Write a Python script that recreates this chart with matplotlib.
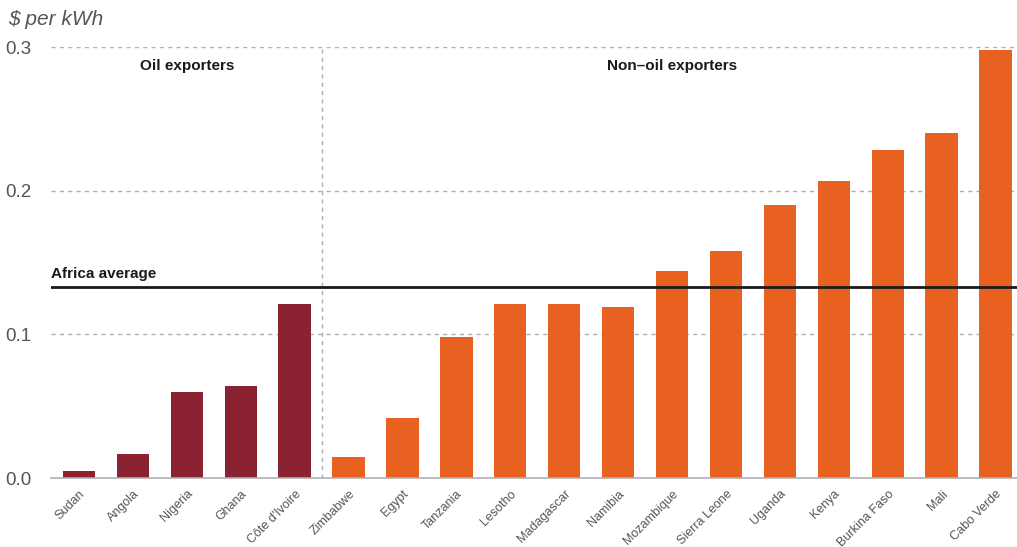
# -*- coding: utf-8 -*-
import matplotlib
matplotlib.use('Agg')
import matplotlib.pyplot as plt
import numpy as np

plt.rcParams['font.family'] = ['Liberation Sans', 'DejaVu Sans']

# data
countries = ['Sudan', 'Angola', 'Nigeria', 'Ghana', "Côte d'Ivoire",
             'Zimbabwe', 'Egypt', 'Tanzania', 'Lesotho', 'Madagascar', 'Namibia',
             'Mozambique', 'Sierra Leone', 'Uganda', 'Kenya', 'Burkina Faso',
             'Mali', 'Cabo Verde']
price = [0.005, 0.017, 0.060, 0.064, 0.121,
         0.0145, 0.042, 0.098, 0.121, 0.121, 0.119,
         0.144, 0.158, 0.190, 0.207, 0.228, 0.240, 0.298]
n_oil = 5
africa_avg = 0.133
yticks = [0.0, 0.1, 0.2, 0.3]

oil_col = '#8B2232'
non_col = '#E86121'
grid_col = '#b0b0b0'

fig = plt.figure(figsize=(10.17, 5.47), dpi=100)
ax = fig.add_axes([0.0501, 0.126, 0.95, 0.788])

x = np.arange(len(countries))
colors = [oil_col] * n_oil + [non_col] * (len(countries) - n_oil)

# dashed grid
for t in yticks[1:]:
    ax.axhline(t, color=grid_col, lw=1, ls=(0, (3, 3)), zorder=0)
ax.axvline(n_oil - 0.5, color=grid_col, lw=1, ls=(0, (3, 3)), zorder=0)

ax.bar(x, price, width=0.6, color=colors, zorder=2)

# Africa average
ax.axhline(africa_avg, color='#1a1a1a', lw=2, zorder=3)
ax.text(-0.52, africa_avg + 0.004, 'Africa average', fontsize=11, fontweight='bold',
        color='#1a1a1a', ha='left', va='bottom')

ax.text(2, 0.287, 'Oil exporters', fontsize=11, fontweight='bold',
        color='#1a1a1a', ha='center', va='center')
ax.text(11, 0.287, 'Non\u2013oil exporters', fontsize=11, fontweight='bold',
        color='#1a1a1a', ha='center', va='center')

ax.set_xlim(-0.52, 17.4)
ax.set_ylim(0, 0.3)
ax.set_yticks(yticks)
ax.set_yticklabels(['0.0', '0.1', '0.2', '0.3'], fontsize=13.5, color='#555555')
ax.set_xticks(x)
ax.set_xticklabels(countries, rotation=45, ha='right', rotation_mode='anchor',
                   fontsize=9, color='#555555')
ax.tick_params(axis='both', length=0)
ax.tick_params(axis='y', pad=14)
ax.tick_params(axis='x', pad=7)

for s in ['top', 'right', 'left']:
    ax.spines[s].set_visible(False)
ax.spines['bottom'].set_color('#b0b0b0')
ax.spines['bottom'].set_linewidth(1.2)

fig.text(0.008, 0.965, '$ per kWh', fontsize=15, style='italic', color='#555555',
         ha='left', va='center')

fig.savefig('out.png', dpi=100)
